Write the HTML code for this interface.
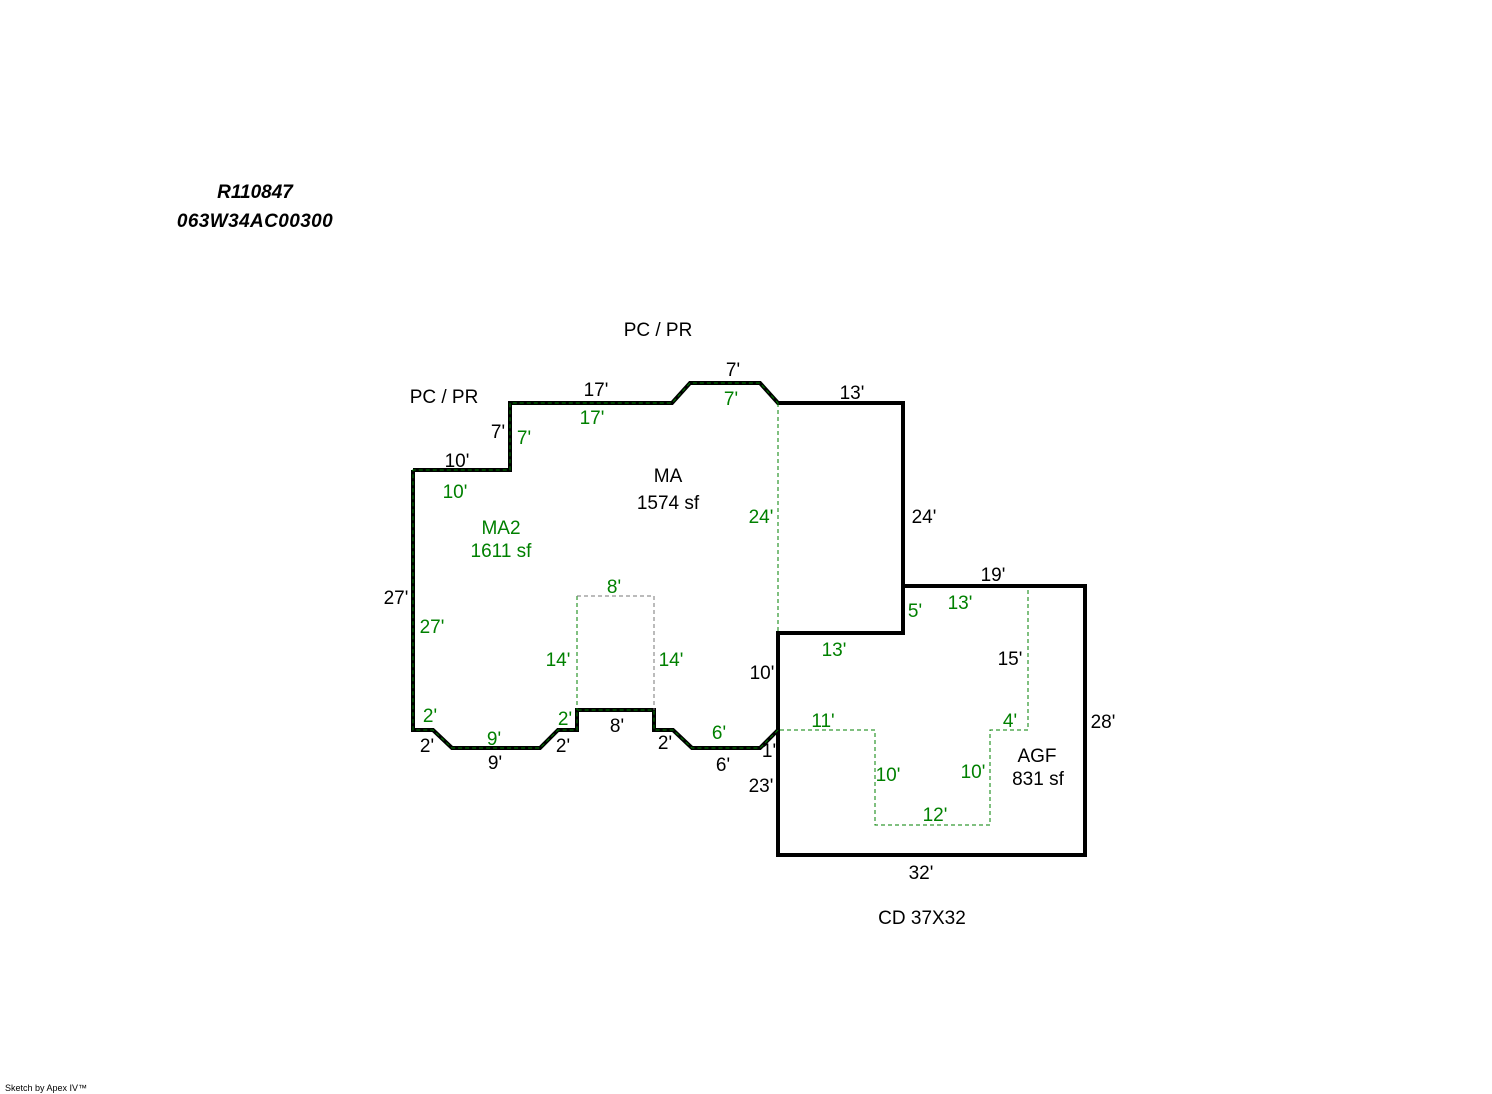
<!DOCTYPE html>
<html><head><meta charset="utf-8"><style>
html,body{margin:0;padding:0;background:#fff;}
svg{display:block;}
text{font-family:"Liberation Sans",Arial,sans-serif;font-size:19px;}
.b{fill:#000;}
.g{fill:#008000;}
</style></head><body>
<svg width="1492" height="1094" viewBox="0 0 1492 1094" xmlns="http://www.w3.org/2000/svg">
<text x="255" y="198" text-anchor="middle" style="font-weight:bold;font-style:italic;font-size:19px">R110847</text>
<text x="255" y="227" text-anchor="middle" style="font-weight:bold;font-style:italic;font-size:19px;letter-spacing:0.4px">063W34AC00300</text>

<polyline fill="none" stroke="#000" stroke-width="4" stroke-linejoin="miter"
 points="413,470 510,470 510,403 672,403 690,383 760,383 778,403 903,403 903,633 778,633 778,855 1085,855 1085,586 903,586 903,633"/>
<polyline fill="none" stroke="#000" stroke-width="4"
 points="778,730 760,748 692,748 673,730 654,730 654,710 577,710 577,730 558,730 540,748 452,748 433,730 413,730 413,470"/>
<polyline fill="none" stroke="#008000" stroke-width="1" stroke-dasharray="4,3"
 points="778,730 760,748 692,748 673,730 654,730 654,710 577,710 577,730 558,730 540,748 452,748 433,730 413,730 413,470 510,470 510,403 672,403 690,383 760,383 778,403"/>
<line x1="778" y1="403" x2="778" y2="633" stroke="#008000" stroke-width="1" stroke-dasharray="4,3"/>
<line x1="577" y1="596" x2="577" y2="710" stroke="#008000" stroke-width="1" stroke-dasharray="4,3"/>
<polyline fill="none" stroke="#777" stroke-width="1" stroke-dasharray="4,3" points="577,596 654,596 654,710"/>
<polyline fill="none" stroke="#008000" stroke-width="1" stroke-dasharray="4,3"
 points="780,730 875,730 875,825 990,825 990,730 1028,730 1028,590"/>

<g class="b">
<text x="658" y="336" text-anchor="middle">PC / PR</text>
<text x="444" y="403" text-anchor="middle">PC / PR</text>
<text x="733" y="376" text-anchor="middle">7'</text>
<text x="596" y="396" text-anchor="middle">17'</text>
<text x="852" y="399" text-anchor="middle">13'</text>
<text x="498" y="438" text-anchor="middle">7'</text>
<text x="457" y="467" text-anchor="middle">10'</text>
<text x="668" y="482" text-anchor="middle">MA</text>
<text x="668" y="509" text-anchor="middle">1574 sf</text>
<text x="924" y="523" text-anchor="middle">24'</text>
<text x="993" y="581" text-anchor="middle">19'</text>
<text x="396" y="604" text-anchor="middle">27'</text>
<text x="1010" y="665" text-anchor="middle">15'</text>
<text x="762" y="679" text-anchor="middle">10'</text>
<text x="1103" y="728" text-anchor="middle">28'</text>
<text x="617" y="732" text-anchor="middle">8'</text>
<text x="427" y="752" text-anchor="middle">2'</text>
<text x="563" y="752" text-anchor="middle">2'</text>
<text x="665" y="749" text-anchor="middle">2'</text>
<text x="769" y="757" text-anchor="middle">1'</text>
<text x="1037" y="762" text-anchor="middle">AGF</text>
<text x="1038" y="785" text-anchor="middle">831 sf</text>
<text x="495" y="769" text-anchor="middle">9'</text>
<text x="723" y="771" text-anchor="middle">6'</text>
<text x="761" y="792" text-anchor="middle">23'</text>
<text x="921" y="879" text-anchor="middle">32'</text>
<text x="922" y="924" text-anchor="middle">CD 37X32</text>
</g>
<g class="g">
<text x="731" y="405" text-anchor="middle">7'</text>
<text x="592" y="424" text-anchor="middle">17'</text>
<text x="524" y="444" text-anchor="middle">7'</text>
<text x="455" y="498" text-anchor="middle">10'</text>
<text x="761" y="523" text-anchor="middle">24'</text>
<text x="501" y="534" text-anchor="middle">MA2</text>
<text x="501" y="557" text-anchor="middle">1611 sf</text>
<text x="614" y="593" text-anchor="middle">8'</text>
<text x="960" y="609" text-anchor="middle">13'</text>
<text x="915" y="617" text-anchor="middle">5'</text>
<text x="432" y="633" text-anchor="middle">27'</text>
<text x="834" y="656" text-anchor="middle">13'</text>
<text x="558" y="666" text-anchor="middle">14'</text>
<text x="671" y="666" text-anchor="middle">14'</text>
<text x="430" y="722" text-anchor="middle">2'</text>
<text x="565" y="725" text-anchor="middle">2'</text>
<text x="823" y="727" text-anchor="middle">11'</text>
<text x="1010" y="727" text-anchor="middle">4'</text>
<text x="719" y="739" text-anchor="middle">6'</text>
<text x="494" y="745" text-anchor="middle">9'</text>
<text x="888" y="781" text-anchor="middle">10'</text>
<text x="973" y="778" text-anchor="middle">10'</text>
<text x="935" y="821" text-anchor="middle">12'</text>
</g>
<text x="5" y="1091" style="font-size:9px">Sketch by Apex IV™</text>
</svg>
</body></html>
